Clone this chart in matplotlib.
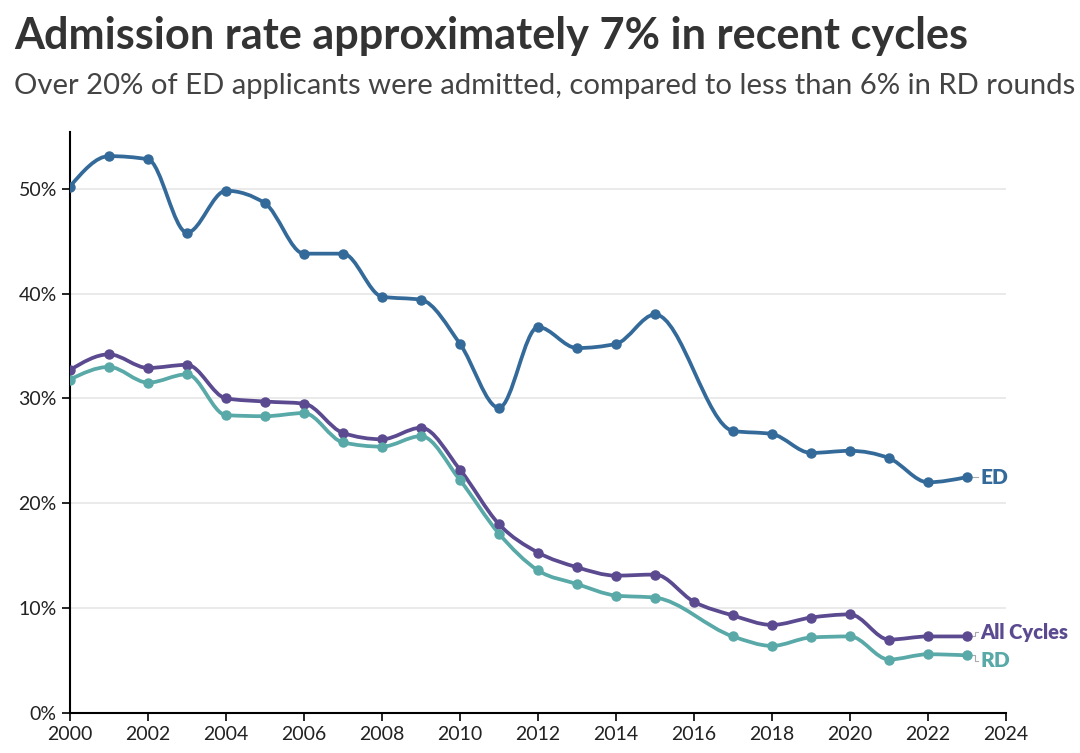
import matplotlib
matplotlib.use("Agg")
import matplotlib.pyplot as plt
import numpy as np
from matplotlib.path import Path
from matplotlib.patches import PathPatch

# data
years_ed = [2000, 2001, 2002, 2003, 2004, 2005, 2006, 2007, 2008, 2009, 2010, 2011,
            2012, 2013, 2014, 2015, 2017, 2018, 2019, 2020, 2021, 2022, 2023]
ed_rate = [50.2, 53.1, 52.8, 45.8, 49.8, 48.6, 43.8, 43.8, 39.7, 39.4, 35.2, 29.1,
           36.8, 34.8, 35.2, 38.0, 26.9, 26.6, 24.8, 25.0, 24.3, 22.0, 22.5]

years_all = [2000, 2001, 2002, 2003, 2004, 2005, 2006, 2007, 2008, 2009, 2010, 2011,
             2012, 2013, 2014, 2015, 2016, 2017, 2018, 2019, 2020, 2021, 2022, 2023]
all_rate = [32.7, 34.2, 32.9, 33.2, 30.0, 29.7, 29.5, 26.7, 26.1, 27.2, 23.2, 18.0,
            15.3, 13.9, 13.1, 13.2, 10.6, 9.3, 8.4, 9.1, 9.4, 7.0, 7.3, 7.3]

years_rd = [2000, 2001, 2002, 2003, 2004, 2005, 2006, 2007, 2008, 2009, 2010, 2011,
            2012, 2013, 2014, 2015, 2017, 2018, 2019, 2020, 2021, 2022, 2023]
rd_rate = [31.8, 33.0, 31.5, 32.3, 28.4, 28.3, 28.6, 25.8, 25.4, 26.4, 22.2, 17.1,
           13.6, 12.3, 11.2, 11.0, 7.3, 6.4, 7.2, 7.3, 5.1, 5.6, 5.5]

col_ed = "#346a99"
col_all = "#5b4a90"
col_rd = "#58a9a7"

title = "Admission rate approximately 7% in recent cycles"
subtitle = "Over 20% of ED applicants were admitted, compared to less than 6% in RD rounds"


def monotone_path(x, y):
    # same idea as d3.curveMonotoneX, drawn as cubic bezier segments
    x = np.asarray(x, float)
    y = np.asarray(y, float)
    n = len(x)
    h = np.diff(x)
    s = np.diff(y) / h
    t = np.zeros(n)
    for i in range(1, n - 1):
        p = (s[i - 1] * h[i] + s[i] * h[i - 1]) / (h[i - 1] + h[i])
        t[i] = (np.sign(s[i - 1]) + np.sign(s[i])) * min(abs(s[i - 1]), abs(s[i]), 0.5 * abs(p))
    t[0] = (3 * s[0] - t[1]) / 2
    t[-1] = (3 * s[-1] - t[-2]) / 2
    verts = [(x[0], y[0])]
    codes = [Path.MOVETO]
    for i in range(n - 1):
        dx = h[i] / 3
        verts += [(x[i] + dx, y[i] + dx * t[i]),
                  (x[i + 1] - dx, y[i + 1] - dx * t[i + 1]),
                  (x[i + 1], y[i + 1])]
        codes += [Path.CURVE4] * 3
    return Path(verts, codes)


def fit_width(txt, width_px):
    # shrink/grow a text so it spans about width_px
    r = fig.canvas.get_renderer()
    w = txt.get_window_extent(renderer=r).width
    txt.set_fontsize(txt.get_fontsize() * width_px / w)


plt.rcParams['font.family'] = ['Lato', 'DejaVu Sans']

fig = plt.figure(figsize=(10.8, 7.53), dpi=100)
ax = fig.add_axes([70 / 1080, 40 / 753, (1006 - 70) / 1080, (713 - 132) / 753])

for xs, ys, c in [(years_ed, ed_rate, col_ed), (years_all, all_rate, col_all), (years_rd, rd_rate, col_rd)]:
    ax.add_patch(PathPatch(monotone_path(xs, ys), facecolor='none', edgecolor=c, lw=2.7,
                           capstyle='round', joinstyle='round', zorder=3))
    ax.plot(xs, ys, 'o', color=c, markersize=6.5, zorder=4)

ax.set_xlim(2000, 2024)
ax.set_ylim(0, 55.4)
ax.set_xticks(range(2000, 2025, 2))
ax.set_yticks(range(0, 51, 10))
ax.set_yticklabels([f"{v}%" for v in range(0, 51, 10)])
ax.tick_params(axis='both', length=6, width=1.2, labelsize=14, colors='black', labelcolor='#222222')

for v in range(10, 51, 10):
    ax.axhline(v, xmax=1.002, color='#e8e8e8', lw=1.3, zorder=1)

for side in ['top', 'right']:
    ax.spines[side].set_visible(False)
for side in ['left', 'bottom']:
    ax.spines[side].set_color('black')
    ax.spines[side].set_linewidth(1.5)

# end labels with little connectors
ax.plot([2023.12, 2023.28], [ed_rate[-1], ed_rate[-1]], color='#aaaaaa', lw=0.8, clip_on=False)
ax.text(2023.35, ed_rate[-1], "ED", color=col_ed, fontsize=15, fontweight='heavy', va='center', clip_on=False)
ax.plot([2023.12, 2023.2, 2023.2, 2023.28], [all_rate[-1], all_rate[-1], 7.7, 7.7],
        color='#aaaaaa', lw=0.8, clip_on=False)
ax.text(2023.35, 7.7, "All Cycles", color=col_all, fontsize=14.5, fontweight='heavy', va='center', clip_on=False)
ax.plot([2023.12, 2023.2, 2023.2, 2023.28], [rd_rate[-1], rd_rate[-1], 5.0, 5.0],
        color='#aaaaaa', lw=0.8, clip_on=False)
ax.text(2023.35, 5.0, "RD", color=col_rd, fontsize=15, fontweight='heavy', va='center', clip_on=False)

t1 = fig.text(14 / 1080, 1 - 36 / 753, title, fontsize=30, fontweight='bold', color='#333333', va='center')
t2 = fig.text(14 / 1080, 1 - 86 / 753, subtitle, fontsize=18, color='#444444', va='center')
fit_width(t1, 954)
fit_width(t2, 1060)

fig.savefig("out.png", dpi=100)
